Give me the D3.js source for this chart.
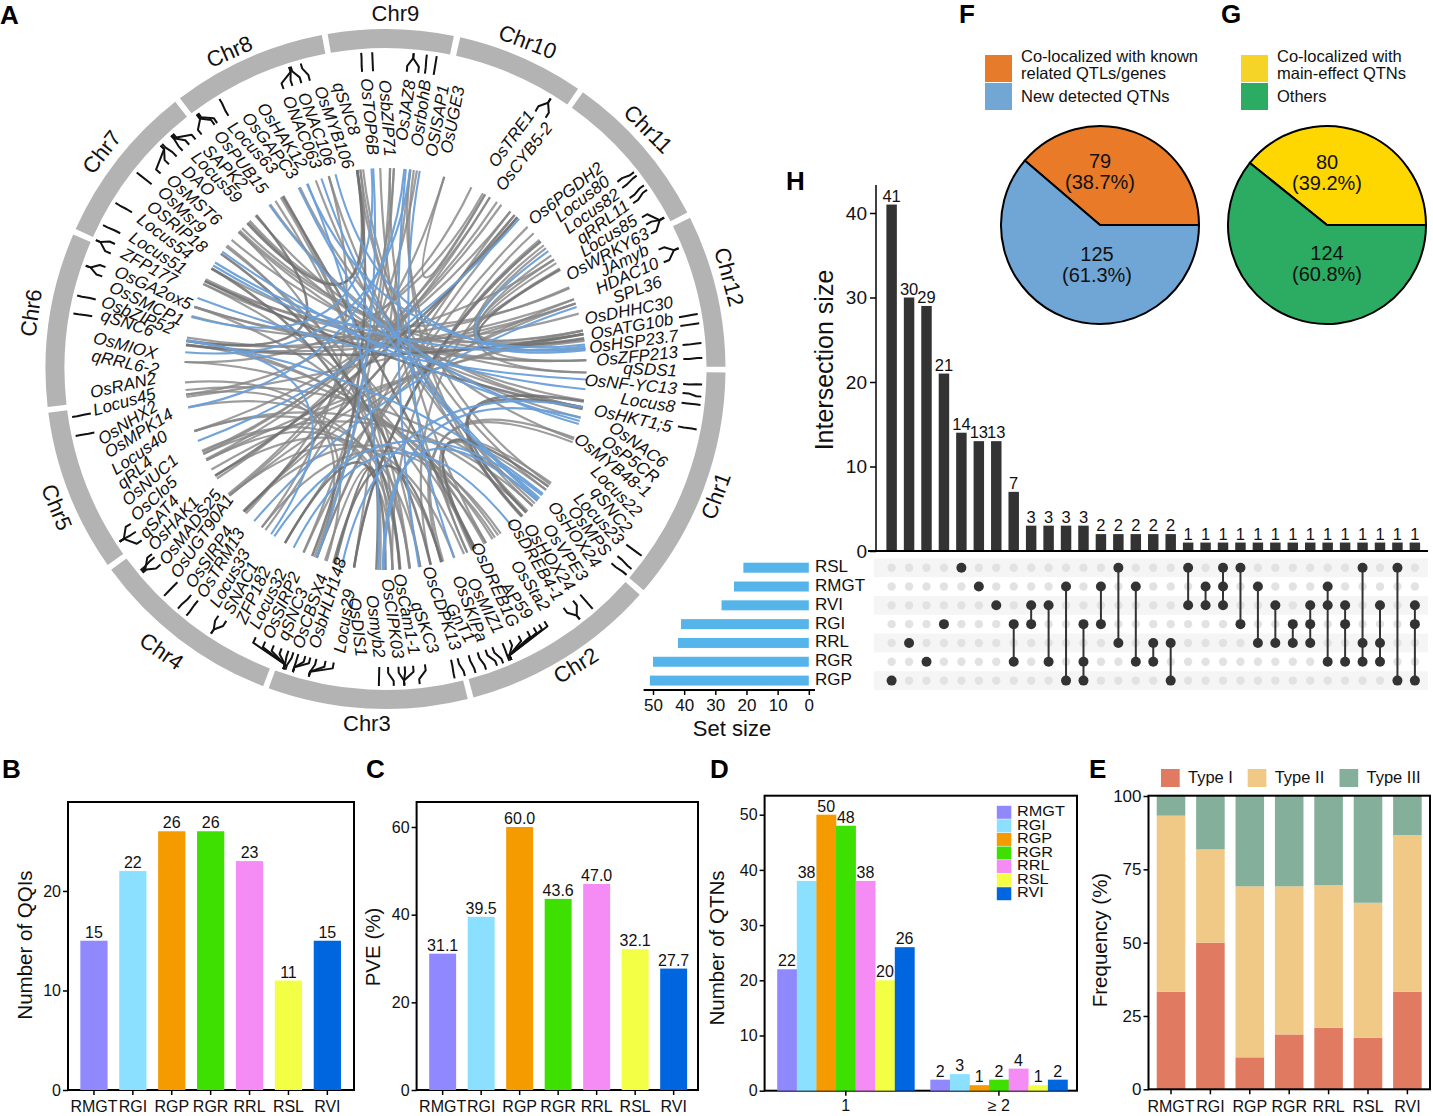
<!DOCTYPE html>
<html><head><meta charset="utf-8">
<script src="https://cdn.jsdelivr.net/npm/d3@7"></script>
<style>
html,body{margin:0;padding:0;background:#fff}
svg{display:block;font-family:"Liberation Sans",Arial,sans-serif}
</style></head><body>
<svg id="c" width="1433" height="1116"></svg>
<script>
// ---------- DATA ----------
const traits = ["RMGT","RGI","RGP","RGR","RRL","RSL","RVI"];
const traitColors = ["#9088FF","#8BE0FF","#F59B00","#3DE000","#F58BF5","#F2FF45","#0066E0"];
const qqiCounts = [15,22,26,26,23,11,15];
const pveValues = ["31.1","39.5","60.0","43.6","47.0","32.1","27.7"];
const qtnGroups = ["1","≥ 2"];
const qtnSingle = [22,38,50,48,38,20,26];
const qtnMulti = [2,3,1,2,4,1,2];
const typeNames = ["Type I","Type II","Type III"];
const typeColors = ["#E07B62","#F0C986","#84AF9B"];
const typeI = [33.3,50,10.9,18.7,21.0,17.6,33.3];
const typeII = [60,31.8,58.3,50.5,48.6,46,53.4];
const typeIII = [6.7,18.2,30.8,30.8,30.4,36.4,13.3];
const pieF = [79,125], pieFLabels = ["(38.7%)","(61.3%)"];
const pieG = [80,124], pieGLabels = ["(39.2%)","(60.8%)"];
const upsetRows = ["RSL","RMGT","RVI","RGI","RRL","RGR","RGP"];
const setSizes = [21,24,28,41,42,50,51];
const intersectionSizes = [41,30,29,21,14,13,13,7,3,3,3,3,2,2,2,2,2,1,1,1,1,1,1,1,1,1,1,1,1,1,1];
const intersectionSets = [["RGP"],["RRL"],["RGR"],["RGI"],["RSL"],["RMGT"],["RVI"],["RGI","RGR"],["RVI","RGI"],["RVI","RGR"],["RMGT","RGP"],["RGI","RGR","RGP"],["RMGT","RGI"],["RSL","RRL"],["RMGT","RGR"],["RRL","RGR"],["RRL","RGP"],["RSL","RVI"],["RMGT","RVI"],["RSL","RMGT","RVI"],["RSL","RGI"],["RMGT","RRL"],["RVI","RRL"],["RGI","RRL"],["RVI","RGI","RRL"],["RMGT","RVI","RGR"],["RVI","RGI","RGR"],["RSL","RRL","RGR"],["RVI","RRL","RGR"],["RSL","RGP"],["RVI","RGI","RGP"]];

// chromosome sectors: name, start angle, end angle (degrees clockwise from north)
const chrNames = ["Chr1","Chr2","Chr3","Chr4","Chr5","Chr6","Chr7","Chr8","Chr9","Chr10","Chr11","Chr12"];
const chrStart = [90.6,131.6,166,201.1,234.8,263.6,294.3,322.8,350.2,12.7,35.5,63.6];
const chrEnd   = [130.6,165,200.1,233.8,262.6,293.3,321.8,349.2,371.6,34.5,62.6,89.6];
const chrLabelAngle = [111,147.3,183,218.4,247.2,279,307.4,333.8,1.6,23.5,47.6,75];
const chrLabelRadius = [355.7,354,356.5,362,358.5,357,355.6,352,354,355,354,354];
const chrLabelTilt = [-70,-32,0,35,68,-82,-52,-24,0,21,45,75];

// gene labels: name, angle of outer end, radius of outer end, text rotation
const geneLabels = [
["OsDHHC30",77.1,295,-10.9],["OsATG10b",80.3,292,-10.6],["OsHSP23.7",83.7,294.6,-7.8],["OsZFP213",86.9,293,-5.9],["qSDS1",90.6,291.5,3],["OsNF-YC13",94.1,292,5.5],["Locus8",97.7,292,9],["OsHKT1;5",101.7,292,12.5],
["OsNAC6",109,295.5,35.7],["OsP5CR",112.3,293,36.9],["OsMYB48-1",115.6,291.5,38.3],["Locus22",120,292,45],["qSNC2",123.8,292,50],["Locus23",126.6,292,47],["OsMPS",130,289,52],["OsHOX24",133.1,289,54],["OsVPE3",136.8,289,55],
["OsHOX24",140.1,288,56],["OsDREB4-1",143.2,288.5,59],["OsSta2",146.5,289,57],["AP59",150.2,287,54],["OsDREB1G",153.6,287.6,65],["OsMIZ1",156.9,287,63],["OsSKIPa",160.6,289,69],["GnT1",162.8,285.5,60],["OsCDPK13",166.1,289.5,71],
["qSKC3",170.5,288,70],["OsCam1-1",174.4,287,79],["OsCIPK03",177.7,289.7,82],["Osmyb2",181.4,289,83],["OsDIS1",185,288.8,83],
["Locus29",189,287.6,-81],["OsbHLH148",194.2,288,-73],["OsCBSX4",197.3,292.5,-71],["qSNC3",200.6,289.6,-68],["OsSIRP2",203.5,293.6,-66.5],["Locus32",206.7,290.3,-64],["ZFP182",209.5,292,-65],["SNAC1",212.7,290.4,-62],["Locus33",215.7,292.5,-60],
["OsTRM13",218.9,292.6,-59],["OsSIRP4",221.9,292.6,-55.5],["OsUGT90A1",225.4,295.7,-55],["OsMADS25",228.8,295,-52],["OsHAK1",232.5,294.6,-47],["qSAT4",235.3,294.4,-49],["OsClo5",239.3,292.9,-42.6],["OsNUC1",242.7,293,-41],["qRL4",246.1,290.4,-40],["Locus40",249.3,290.7,-34.5],["OsMPK14",252.9,291.8,-32.3],["OsNHX2",255.7,294.6,-32.5],["Locus45",261.7,295,-15.5],["OsRAN2",265.2,295.9,-12.6],
["qRRL6-2",272.4,294,12],["OsMIOX",276,293.6,15],["qSNC6",280.6,289.4,18],["OsbZIP52",283.3,291.7,22],["OsSMCP1",286.6,287.5,26],["OsGA2ox5",289.8,287.5,24.4],["ZFP177",293.7,288,28.6],["Locus51",297.4,287.7,32.5],["Locus54",301.4,289.3,37],["OSRIP18",304.7,288.2,39],["OsMsr9",308.4,288,44],["OsMST6",311.3,289,42],["DAO",314.6,283.6,41],["Locus59",318.1,287.5,46],["SAPK2",320.7,285,45],["OsPUB15",324.4,290,51.5],["Locus63",327.5,289.3,47],["OsGAPC3",331,290.3,52],["OsHAK12",334.6,292.3,56],["ONAC063",340,289.7,67.5],["ONAC106",343.1,288,69],["OsMYB106",346.6,290,70],["qSNC8",350.3,290,71.6],["OsTOP6B",356,291.4,85],["OsbZIP71",359.6,289,86],
["OsJAZ8",5.1,290,-81.6],["OsrbohB",8.1,292,-82.5],["OSISAP1",11.8,290,-80],["OsUGE3",14.8,292,-79],["OsTRE1",29.7,294.4,-53.7],["OsCYB5-2",34,294,-52],["Os6PGDH2",46.9,296,-38],["Locus80",49.7,292,-37.8],["Locus82",53,291.7,-35.7],["qRRL11",55.9,293,-36.6],["Locus85",59.3,292,-31.7],["OsWRKY63",62.7,295.8,-28.4],["JAmyb",65.6,288.5,-26.6],["HDAC10",68.8,292.6,-24],["SPL36",72.5,289.5,-20]
];

// connector marks: inner angle, outer angle
const geneMarks = [
[80,80],[81.7,81.7],[85.4,85.3],[88.1,88],[92.9,92.8],[94.6,95],[96.5,96.5],[101.1,101],[126.1,126.1],[128.9,129.1],[130.7,130.5],
[139.2,139.2],[143.3,142.2],[141,142.2],[147.8,156.6],[149,156.6],[150.2,156.6],[151.6,156.6],[153.5,156.6],[155.4,156.6],[156.9,157],[159,158.2],[160.4,159.4],[162,161.5],[163.8,163.5],[166,165.5],[167.3,167.4],
[172.4,173.8],[174.7,176.6],[176.3,176.6],[177.5,176.6],[179.5,178.5],[181.2,181.2],
[190,194],[191.6,194],[193.4,194],[194.6,197],[195.6,197],[197,197],[198,198.4],[199,198.8],[200.4,198.8],[202,198.8],[203.8,198.8],[205.8,198.8],
[212.3,213.4],[214.1,213.4],[219,218.9],[220.7,220.9],[224.3,224.3],[229,230],[231.6,230.3],[230.8,230.6],[234.9,237],[236.9,237],[238.7,237],
[257.7,257.8],[261.4,261.3],[280.2,280.1],[283.5,283.4],[288.1,289],[290,289],[292.8,294],[294.8,294],[297.1,297],[301.7,301.6],[308.3,308.3],
[311,314.8],[313.4,314.8],[315.5,315.2],[317.1,317.4],[318.8,317.6],[320.4,317.9],[321.9,323.6],[325.6,323.8],[325,323.4],[328.2,328.4],
[340,342.3],[341.8,342.3],[343.6,342.6],[345.3,344.5],[355.5,355.6],[357.6,357.6],[4.1,5.1],[6.3,5.1],[7.6,7.5],[9.3,9.3],
[30.2,31.4],[32.5,31.4],[51.1,51.6],[52.6,52.4],[55,54.6],[56.2,55.6],[59.4,61.5],[61,61.5],[63,61.5],[66.4,67.6],[69,67.6]
];

// links: angle of one end, angle of the other end
const linksBlue = [[54.1,84.6],[128.9,213.6],[141.2,207.2],[5.4,259],[5.8,170.4],[180.4,104],[9.8,160],[72,220.8],[41.7,249],[83,337],[93,290.7],[105.9,324.7],[101,192.5],[285,356],[95.8,301],[128.4,278],[83.5,302],[334.4,130.5],[337.2,182],[341.4,130],[345.6,84.2],[7,274.8],[278.2,214.7],[305.7,105],[356.5,200],[180.8,131]];
const linksGrey = [[1.3,150],[2.4,224],[7.1,125],[8.1,137],[9,216.7],[17,29.7],[25.3,262.7],[29,272],[31.3,245],[33.7,243.3],[35.2,245.6],[38.4,252],[45,200],[47.5,178],[52,91],[53,167],[55.6,87.5],[57,79],[58.2,80],[66.3,296],[69.7,279],[71,277],[82,288],[87.5,300],[91,310],[110,163.3],[111.4,164],[124.5,154.5],[127,156],[130.9,264],[132.9,245],[135.4,252],[145.9,272],[147.8,277],[150,278],[153.5,295],[157,288],[173.2,308],[178,313],[181.5,197.5],[189,50],[200.7,2.4],[204.1,1.3],[218,343.6],[225,69.7],[230.9,71],[231.5,17],[266.2,197],[278.2,57],[285.3,66],[296.5,79],[313.5,84],[314.5,81.6],[317.5,352.8],[319.7,99],[325,101],[334.8,110.5],[339.7,135],[343.6,132],[262.7,200],[288,74],[307.5,150.5],[353.6,127],[351.9,133],[352.8,137],[358.5,156],[7.1,189],[41,200],[38.4,204],[29.7,237],[31.3,231],[60,210],[79,240],[80,243],[71,262],[87.5,295],[104,317],[101,313],[145,225],[147,218],[160,231],[163.8,238],[170,252],[173,259],[176,246],[178,243],[326.8,170],[328.6,173],[329.5,176]];
const linksDark = [[41,237.9],[50.6,189],[60.4,81.2],[99.3,137.3],[101,135.6],[125.8,154],[163.8,195],[167,305],[175.8,300],[182.6,194.5],[295.9,101.5],[316.5,351.9],[276.8,80],[278,320],[180,210],[153.5,329.2],[351.9,201.4],[224.7,40]];

// ---------- HELPERS ----------
const svg = d3.select("#c");
const FONT = '"Liberation Sans",Arial,sans-serif';
const rad = d => d * Math.PI / 180;
const circle = {cx:385.5, cy:369, ringIn:321, ringOut:340, linkR:201, markR:[298,304,312,317]};
const polar = (a, r) => [r * Math.sin(rad(a)), -r * Math.cos(rad(a))];

function txt(g, s, x, y, size, opt={}) {
  const t = g.append("text").attr("x",x).attr("y",y).attr("font-size",size)
    .attr("text-anchor",opt.anchor||"middle").attr("fill","#111").text(s);
  if (opt.bold) t.attr("font-weight","bold");
  if (opt.italic) t.attr("font-style","italic");
  if (opt.mid) t.attr("dominant-baseline","middle");
  if (opt.rotate!==undefined) t.attr("transform",`rotate(${opt.rotate} ${x} ${y})`);
  return t;
}
function panelLetter(s,x,y){ txt(svg,s,x,y,26,{anchor:"start",bold:true}).attr("fill","#000"); }

function styleAxis(g, size) {
  g.select(".domain").remove();
  g.selectAll(".tick line").attr("stroke","#000").attr("stroke-width",1.5);
  g.selectAll(".tick text").attr("font-size",size).attr("font-family",FONT).attr("fill","#111");
}
function frame(x0,y0,x1,y1){
  svg.append("rect").attr("x",x0).attr("y",y0).attr("width",x1-x0).attr("height",y1-y0)
    .attr("fill","none").attr("stroke","#000").attr("stroke-width",2);
}

// ---------- PANEL A ----------
const A = svg.append("g").attr("transform",`translate(${circle.cx},${circle.cy})`);
const ringArc = d3.arc().innerRadius(circle.ringIn).outerRadius(circle.ringOut);
chrNames.forEach((n,i)=>{
  const s = chrStart[i], e = chrEnd[i];
  A.append("path").attr("d",ringArc({startAngle:rad(s),endAngle:rad(e)})).attr("fill","#b3b3b3");
  const [x,y] = polar(chrLabelAngle[i],chrLabelRadius[i]);
  txt(A,n,x,y,22,{mid:true,rotate:chrLabelTilt[i]});
});
function linkPath(a,b){
  const p = d3.path(), [x0,y0] = polar(a,circle.linkR), [x1,y1] = polar(b,circle.linkR);
  p.moveTo(x0,y0); p.quadraticCurveTo(0,0,x1,y1);
  return p.toString();
}
const linkG = A.append("g").attr("fill","none");
linksGrey.forEach(d=>linkG.append("path").attr("d",linkPath(d[0],d[1])).attr("stroke","#888").attr("stroke-width",2.2).attr("stroke-opacity",.82));
linksDark.forEach(d=>linkG.append("path").attr("d",linkPath(d[0],d[1])).attr("stroke","#707070").attr("stroke-width",2.6).attr("stroke-opacity",.85));
linksBlue.forEach(d=>linkG.append("path").attr("d",linkPath(d[0],d[1])).attr("stroke","#6a9fd8").attr("stroke-width",2.1).attr("stroke-opacity",.95));

const markLine = d3.line();
geneMarks.forEach(d=>{
  const r = circle.markR;
  A.append("path").attr("fill","none").attr("stroke","#111").attr("stroke-width",2).attr("stroke-linejoin","round")
   .attr("d",markLine([polar(d[0],r[0]),polar(d[0],r[1]),polar(d[1],r[2]),polar(d[1],r[3])]));
});
geneLabels.forEach(d=>{
  const [x,y] = polar(d[1],d[2]);
  const rightHalf = d[1] < 187;
  txt(A,d[0],x,y,17,{italic:true,mid:true,anchor:rightHalf?"end":"start",rotate:d[3]});
});
panelLetter("A",0,24);

// ---------- PANELS B / C ----------
function barPanel(cfg){
  const x = d3.scaleBand().domain(traits).range(cfg.xr).paddingInner(.3).paddingOuter(.15);
  const y = d3.scaleLinear().domain([0,cfg.ymax]).range([cfg.yr[0],cfg.yr[1]]);
  frame(cfg.xf[0],cfg.yr[1],cfg.xf[1],cfg.yr[0]);
  traits.forEach((t,i)=>{
    const v = +cfg.values[i];
    svg.append("rect").attr("x",x(t)).attr("y",y(v)).attr("width",x.bandwidth()).attr("height",y(0)-y(v)).attr("fill",traitColors[i]);
    txt(svg,cfg.values[i],x(t)+x.bandwidth()/2,y(v)-3,16);
  });
  const ax = svg.append("g").attr("transform",`translate(0,${cfg.yr[0]})`).call(d3.axisBottom(x).tickSize(5).tickPadding(6));
  styleAxis(ax,16);
  const ay = svg.append("g").attr("transform",`translate(${cfg.xf[0]},0)`).call(d3.axisLeft(y).tickValues(cfg.ticks).tickSize(5).tickPadding(2));
  styleAxis(ay,16);
  txt(svg,cfg.label,cfg.lx,cfg.ly,20.5,{mid:true,rotate:-90});
}
barPanel({xr:[74.5,346.8],xf:[68,354],yr:[1090,802],ymax:28.94,values:qqiCounts,ticks:[0,10,20],label:"Number of QQIs",lx:27,ly:945});
barPanel({xr:[423.4,692.9],xf:[416.6,698],yr:[1090,802],ymax:65.7,values:pveValues,ticks:[0,20,40,60],label:"PVE (%)",lx:375,ly:947});
panelLetter("B",2,778);
panelLetter("C",366,778);

// ---------- PANEL D ----------
{
  const x0 = d3.scaleBand().domain(qtnGroups).range([769.25,1075.45]).paddingInner(.104).paddingOuter(.052);
  const x1 = d3.scaleBand().domain(traits).range([0,x0.bandwidth()]);
  const y = d3.scaleLinear().domain([0,53.44]).range([1090.7,795.7]);
  frame(764.6,795.7,1077,1090.7);
  [qtnSingle,qtnMulti].forEach((vals,k)=>{
    traits.forEach((t,i)=>{
      const X = x0(qtnGroups[k])+x1(t);
      svg.append("rect").attr("x",X).attr("y",y(vals[i])).attr("width",x1.bandwidth()+.3).attr("height",y(0)-y(vals[i])).attr("fill",traitColors[i]);
      txt(svg,vals[i],X+x1.bandwidth()/2,y(vals[i])-3,16);
    });
  });
  const ax = svg.append("g").attr("transform","translate(0,1090.7)").call(d3.axisBottom(x0).tickSize(5).tickPadding(4));
  styleAxis(ax,16);
  const ay = svg.append("g").attr("transform","translate(764.6,0)").call(d3.axisLeft(y).tickValues([0,10,20,30,40,50]).tickSize(5).tickPadding(2));
  styleAxis(ay,16);
  const ly = d3.scaleBand().domain(traits).range([805.8,900.8]);
  traits.forEach((t,i)=>{
    svg.append("rect").attr("x",996.8).attr("y",ly(t)).attr("width",14.5).attr("height",13).attr("fill",traitColors[i]);
    const label = txt(svg,t,1017,ly(t)+6.5,14,{anchor:"start",mid:true});
    label.attr("textLength",label.node().getComputedTextLength()*1.16).attr("lengthAdjust","spacingAndGlyphs");
  });
  txt(svg,"Number of QTNs",719,948,20.5,{mid:true,rotate:-90});
  panelLetter("D",710,778);
}

// ---------- PANEL E ----------
{
  const x = d3.scaleBand().domain(traits).range([1151.3,1427.1]).paddingInner(.275).paddingOuter(.1375);
  const y = d3.scaleLinear().domain([0,100]).range([1089.3,796]);
  const series = [typeI,typeII,typeIII];
  traits.forEach((t,i)=>{
    let acc = 0;
    series.forEach((s,k)=>{
      svg.append("rect").attr("x",x(t)).attr("y",y(acc+s[i])).attr("width",x.bandwidth()).attr("height",y(acc)-y(acc+s[i])).attr("fill",typeColors[k]);
      acc += s[i];
    });
  });
  frame(1148.5,795.7,1430,1089.3);
  const ax = svg.append("g").attr("transform","translate(0,1089.3)").call(d3.axisBottom(x).tickSize(5).tickPadding(6));
  styleAxis(ax,16);
  const ay = svg.append("g").attr("transform","translate(1148.5,0)").call(d3.axisLeft(y).tickValues([0,25,50,75,100]).tickSize(5).tickPadding(2));
  styleAxis(ay,17);
  const legX = d3.scaleOrdinal().domain(typeNames).range([1161,1247.7,1339.5]);
  typeNames.forEach((n,k)=>{
    svg.append("rect").attr("x",legX(n)).attr("y",769).attr("width",18.7).attr("height",18).attr("fill",typeColors[k]);
    txt(svg,n,legX(n)+27,779,16.5,{anchor:"start",mid:true});
  });
  txt(svg,"Frequency (%)",1101.7,940,20.5,{mid:true,rotate:-90});
  panelLetter("E",1089,778);
}

// ---------- PANELS F / G ----------
function piePanel(cfg){
  const g = svg.append("g").attr("transform",`translate(${cfg.cx},225)`);
  const frac = cfg.values[0]/d3.sum(cfg.values);
  const start = Math.PI/2 - 2*Math.PI*frac;
  const pie = d3.pie().sort(null).startAngle(start).endAngle(start+2*Math.PI);
  const arc = d3.arc().innerRadius(0).outerRadius(99);
  pie(cfg.values).forEach((d,i)=>{
    g.append("path").attr("d",arc(d)).attr("fill",cfg.colors[i]).attr("stroke","#000").attr("stroke-width",2);
    txt(g,cfg.values[i],cfg.tx[i],cfg.ty[i],20,{mid:true});
    txt(g,cfg.labels[i],cfg.tx[i],cfg.ty[i]+21,20,{mid:true});
  });
  cfg.legend.forEach((l,i)=>{
    svg.append("rect").attr("x",cfg.lx).attr("y",55+i*28).attr("width",27).attr("height",27).attr("fill",cfg.legendColors[i]);
    l.forEach((line,j)=>txt(svg,line,cfg.lx+36,l.length>1?58+j*17:98,16.5,{anchor:"start",mid:true}));
  });
}
piePanel({cx:1100,values:pieF,labels:pieFLabels,colors:["#E87A28","#70A6D6"],legendColors:["#E57B2B","#72A6D4"],tx:[0,-3],ty:[-62,31],lx:985,
  legend:[["Co-localized with known","related QTLs/genes"],["New detected QTNs"]]});
piePanel({cx:1327,values:pieG,labels:pieGLabels,colors:["#FFD700","#2BAC62"],legendColors:["#F5D327","#2BAC62"],tx:[0,0],ty:[-61,30],lx:1241,
  legend:[["Co-localized with","main-effect QTNs"],["Others"]]});
panelLetter("F",959,23);
panelLetter("G",1221,23);

// ---------- PANEL H ----------
{
  const cols = intersectionSizes.map((d,i)=>i);
  const x = d3.scaleBand().domain(cols).range([882.9,1423.6]).paddingInner(.4).paddingOuter(.2);
  const y = d3.scaleLinear().domain([0,40]).range([551,213]);
  const rows = d3.scaleBand().domain(upsetRows).range([558.3,690]);
  const sx = d3.scaleLinear().domain([0,50]).range([808.8,653]);
  upsetRows.forEach((r,i)=>{
    if(i%2===0) svg.append("rect").attr("x",874).attr("y",rows(r)).attr("width",554).attr("height",rows.bandwidth()).attr("fill","#f5f5f5");
    svg.append("rect").attr("x",sx(setSizes[i])).attr("y",rows(r)+4.4).attr("width",sx(0)-sx(setSizes[i])).attr("height",10).attr("fill","#55B4EA");
    txt(svg,r,815,rows(r)+rows.bandwidth()/2,17,{anchor:"start",mid:true});
  });
  const cx = i => x(i)+x.bandwidth()/2;
  const ry = r => rows(r)+rows.bandwidth()/2;
  cols.forEach(i=>{
    svg.append("rect").attr("x",x(i)).attr("y",y(intersectionSizes[i])).attr("width",x.bandwidth()).attr("height",y(0)-y(intersectionSizes[i])).attr("fill","#333");
    txt(svg,intersectionSizes[i],cx(i),y(intersectionSizes[i])-3,16.5);
    upsetRows.forEach(r=>{
      svg.append("circle").attr("cx",cx(i)).attr("cy",ry(r)).attr("r",4.2).attr("fill","#e2e2e2");
    });
    const ys = intersectionSets[i].map(ry);
    if(ys.length>1) svg.append("line").attr("x1",cx(i)).attr("x2",cx(i)).attr("y1",d3.min(ys)).attr("y2",d3.max(ys)).attr("stroke","#333").attr("stroke-width",2);
    ys.forEach(v=>svg.append("circle").attr("cx",cx(i)).attr("cy",v).attr("r",5).attr("fill","#333"));
  });
  svg.append("line").attr("x1",868).attr("x2",1428).attr("y1",551).attr("y2",551).attr("stroke","#000").attr("stroke-width",2);
  svg.append("line").attr("x1",876).attr("x2",876).attr("y1",185).attr("y2",551).attr("stroke","#000").attr("stroke-width",1.5);
  const ay = svg.append("g").attr("transform","translate(876,0)").call(d3.axisLeft(y).tickValues([0,10,20,30,40]).tickSize(6).tickPadding(3));
  styleAxis(ay,19);
  txt(svg,"Intersection size",826,360,25,{mid:true,rotate:-90});
  svg.append("line").attr("x1",643.6).attr("x2",815).attr("y1",690).attr("y2",690).attr("stroke","#000").attr("stroke-width",2);
  const as = svg.append("g").attr("transform","translate(0,690)").call(d3.axisBottom(sx).tickValues([0,10,20,30,40,50]).tickSize(5).tickPadding(4));
  styleAxis(as,17);
  txt(svg,"Set size",732,730,22,{mid:true});
  panelLetter("H",786,190);
}
</script>
</body></html>
